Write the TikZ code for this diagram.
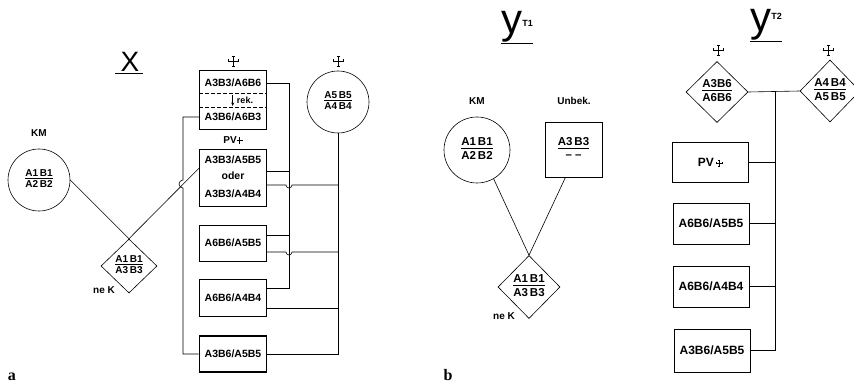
\documentclass[tikz,border=0pt]{standalone}
\usepackage{fontspec}
\setmainfont{Liberation Sans}
\newfontfamily\panelfont{Liberation Serif}
\usetikzlibrary{arrows.meta,positioning,calc,shapes.geometric}

\newcommand{\frc}[2]{\begin{tabular}{@{}c@{}}#1\\[-1.5pt]\hline\noalign{\vskip 1.5pt}#2\end{tabular}}
\newcommand{\cruxsym}[1][1]{\tikz[baseline=-3pt,x=#1pt,y=#1pt,line width=0.45pt]{%
  \draw (0,-5) -- (0,5) (-5,0) -- (5,0)
        (-1.5,5) -- (1.5,5) (-1.5,-5) -- (1.5,-5)
        (-5,-1.5) -- (-5,1.5) (5,-1.5) -- (5,1.5);}}

\begin{document}
\begin{tikzpicture}[x=1pt, y=-1pt, line width=0.6pt,
  boxa/.style={draw, minimum width=67pt, inner sep=0pt,
               font=\bfseries\fontsize{10.5}{12}\selectfont},
  boxb/.style={draw, minimum width=76pt, minimum height=41pt, inner sep=0pt,
               font=\bfseries\fontsize{12}{14}\selectfont},
  txta/.style={inner sep=0pt, font=\bfseries\fontsize{10.5}{12}\selectfont},
  circ/.style={draw, circle, inner sep=0pt},
  diam/.style={draw, diamond, inner sep=0pt},
  frca/.style={font=\bfseries\fontsize{10}{11}\selectfont},
  frcb/.style={font=\bfseries\fontsize{11.5}{13}\selectfont},
  tag/.style={inner sep=0pt, font=\bfseries\fontsize{10}{11}\selectfont},
  title/.style={inner sep=0pt, anchor=base west},
  panel/.style={inner sep=0pt, anchor=base, font=\panelfont\bfseries\fontsize{16}{16}\selectfont},
]
  \useasboundingbox (0,0) rectangle (854,390);

  % panel a
  \node[inner sep=0pt, font=\fontsize{28}{28}\selectfont] (titleX) at (130,62) {X};
  \draw ([xshift=-5pt,yshift=-1.5pt]titleX.south west) -- ([xshift=3pt,yshift=-1.5pt]titleX.south east);

  \node[tag] (kmAlab) at (39,133) {KM};
  \node[circ, frca, minimum size=62pt] (kmA) at (39,180) {\frc{A1\,B1}{A2\,B2}};
  \node[diam, frca, minimum width=56pt, minimum height=54pt] (nekA) at (129,266) {\frc{A1\,B1}{A3\,B3}};
  \node[tag] (nekAlab) at (104,290) {ne K};

  \node (crA1) at (233,61) {\cruxsym};
  \node[boxa, minimum height=59pt] (recA) at (233,100) {};
  \node[txta] (recA1) at (233,83) {A3B3/A6B6};
  \node[txta, font=\bfseries\fontsize{9}{10}\selectfont] (recA2) at (245,100) {rek.};
  \node[txta] (recA3) at (233,117) {A3B6/A6B3};
  \draw[dashed, dash pattern=on 4pt off 2pt] ([yshift=7pt]recA.west) -- ([yshift=7pt]recA.east);
  \draw[dashed, dash pattern=on 4pt off 2pt] ([yshift=-7pt]recA.west) -- ([yshift=-7pt]recA.east);
  \draw[-{Stealth[length=3.5pt,width=3pt]}] ([xshift=-4pt,yshift=5pt]recA2.west) -- ([xshift=-4pt,yshift=-6pt]recA2.west);

  \node[tag] (pvAlab) at (233,140) {PV\cruxsym[0.55]};
  \node[boxa, minimum height=57pt] (pvA) at (233,177.5) {};
  \node[txta] (pvA1) at (233,160) {A3B3/A5B5};
  \node[txta] (pvA2) at (233,176) {oder};
  \node[txta] (pvA3) at (233,194) {A3B3/A4B4};

  \node[boxa, minimum height=36pt] (bxA3) at (233,243) {A6B6/A5B5};
  \node[boxa, minimum height=37pt] (bxA4) at (233,298) {A6B6/A4B4};
  \node[boxa, minimum height=36pt, line width=1.6pt] (bxA5) at (233,354) {A3B6/A5B5};

  \node (crA2) at (338,61) {\cruxsym};
  \node[circ, frca, minimum size=62pt] (cA) at (338,102) {\frc{A5\,B5}{A4\,B4}};

  \coordinate (busA) at (289,83);
  \coordinate (busL) at (183,117);
  \coordinate (pA1) at ([yshift=6.5pt]pvA.east);
  \coordinate (pA2) at ([yshift=-7.5pt]pvA.east);
  \coordinate (p3a) at ([yshift=8pt]bxA3.east);
  \coordinate (p3b) at ([yshift=-9pt]bxA3.east);
  \coordinate (p4a) at ([yshift=10pt]bxA4.east);
  \coordinate (p4b) at ([yshift=-10pt]bxA4.east);

  \draw (kmA.east) -- (nekA.north);
  \draw (nekA.north) -- ([yshift=9.5pt]pvA.west);
  \draw (recA3 -| recA.west) -- (busL) -- ($(busL)+(0,63)$)
        arc[start angle=90, end angle=270, radius=4pt] -- (busL |- bxA5.west) -- (bxA5.west);
  \draw (recA1 -| recA.east) -| (busA |- p4a) -- (p4a);
  \draw (pA1) -- (pA1 -| busA);
  \draw (p3a) -- (p3a -| busA);
  \draw (cA.south) -- (cA.south |- bxA5.east) -- (bxA5.east);
  \draw (pA2) -- ($(pA2 -| busA)+(-3,0)$) arc[start angle=180, end angle=360, radius=3pt] -- (pA2 -| cA.south);
  \draw (p3b) -- ($(p3b -| busA)+(-3,0)$) arc[start angle=180, end angle=360, radius=3pt] -- (p3b -| cA.south);
  \draw (p4b) -- (p4b -| cA.south);

  \node[panel] (labA) at (12,380) {a};

  % panel b
  \node[title] (titleY1) at (501,34) {\fontsize{42}{42}\selectfont y\raisebox{7pt}{\bfseries\fontsize{9}{9}\selectfont T1}};
  \draw (titleY1.south west) -- (titleY1.south east);

  \node[tag] (kmBlab) at (477,101) {KM};
  \node[circ, frcb, minimum size=66pt] (kmB) at (477,150) {\frc{A1\,B1}{A2\,B2}};
  \node[tag] (unbBlab) at (574,101) {Unbek.};
  \node[draw, frcb, minimum width=57pt, minimum height=55pt, inner sep=0pt] (unbB) at (573.5,149.5) {\frc{A3\,B3}{-- --}};
  \node[diam, frcb, minimum width=62pt, minimum height=63pt] (nekB) at (529,287) {\frc{A1\,B1}{A3\,B3}};
  \node[tag] (nekBlab) at (504,316) {ne K};

  \draw (kmB.-60) -- (nekB.north);
  \draw ([xshift=-8pt]unbB.south) -- (nekB.north);

  \node[panel] (labB) at (448,380) {b};

  \node[title] (titleY2) at (750,32) {\fontsize{42}{42}\selectfont y\raisebox{12pt}{\bfseries\fontsize{9}{9}\selectfont T2}};
  \draw (titleY2.south west) -- (titleY2.south east);

  \node (crB1) at (718,50) {\cruxsym};
  \node (crB2) at (828,50) {\cruxsym};
  \node[diam, frcb, minimum width=62pt, minimum height=61pt] (dB1) at (717,92) {\frc{A3B6}{A6B6}};
  \node[diam, frcb, minimum width=60pt, minimum height=62pt] (dB2) at (830,91) {\frc{A4\,B4}{A5\,B5}};

  \node[boxb, minimum height=40pt] (pvB) at (710,162) {PV\,\cruxsym[0.6]};
  \node[boxb] (bxB2) at (711,223.5) {A6B6/A5B5};
  \node[boxb] (bxB3) at (711,286.5) {A6B6/A4B4};
  \node[boxb, minimum height=43pt] (bxB4) at (712,350.5) {A3B6/A5B5};

  \coordinate (busB) at (775,92);
  \draw (dB1.east) -- (dB2.west);
  \draw (busB) -- (busB |- bxB4.east) -- (bxB4.east);
  \draw (pvB.east) -- (pvB.east -| busB);
  \draw (bxB2.east) -- (bxB2.east -| busB);
  \draw (bxB3.east) -- (bxB3.east -| busB);
\end{tikzpicture}
\end{document}
